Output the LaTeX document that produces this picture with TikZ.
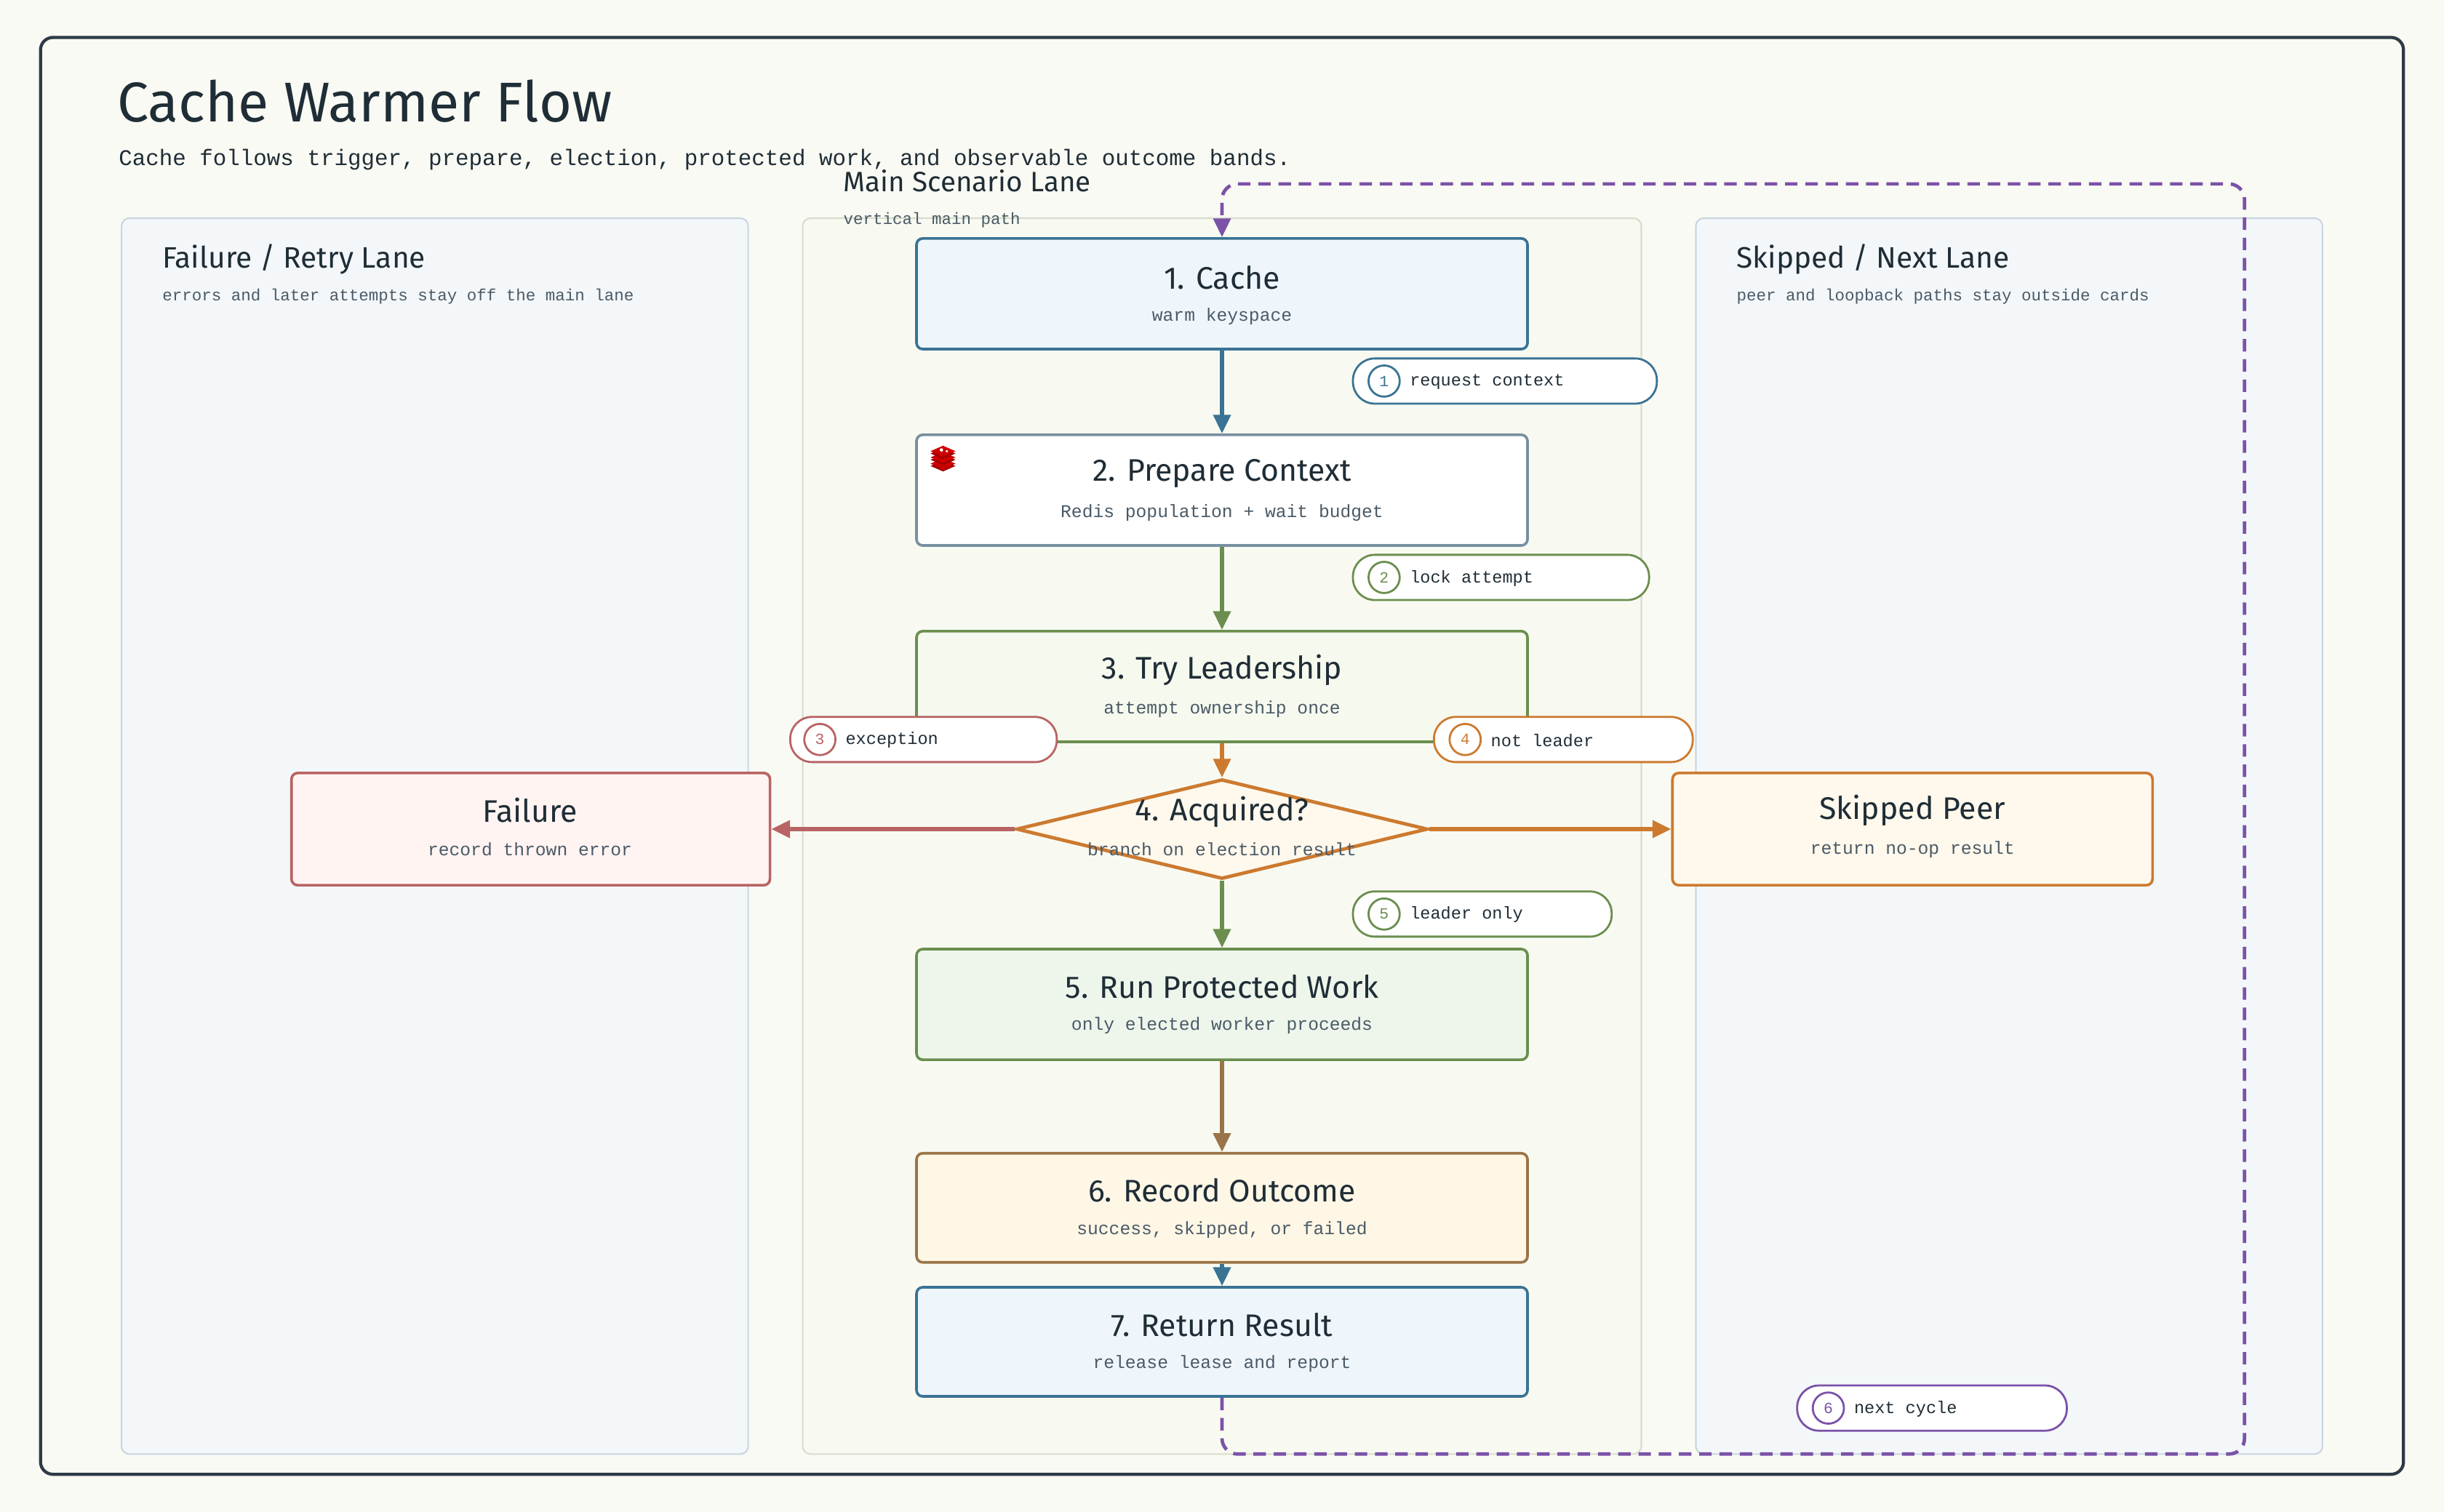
\documentclass[tikz,border=0pt]{standalone}
\usepackage{fontspec}
\setmainfont{Fira Sans}
\newfontfamily\mono{Liberation Mono}
\usetikzlibrary{arrows.meta,shapes.geometric}
\definecolor{ink}{HTML}{1F2D36}
\definecolor{sub}{HTML}{4A5A66}
\definecolor{cblue}{HTML}{3A7394}
\definecolor{cgreen}{HTML}{6B8E4E}
\definecolor{cred}{HTML}{B86464}
\definecolor{corange}{HTML}{CC7A30}
\definecolor{cbrown}{HTML}{9A7448}
\definecolor{cgray}{HTML}{7890A0}
\definecolor{cpurple}{HTML}{7B52A8}
\definecolor{bgc}{HTML}{FAFAF4}
\definecolor{frame}{HTML}{2D3B45}
\definecolor{laneb}{HTML}{F3F7FA}
\definecolor{lanebd}{HTML}{C9D6E0}
\definecolor{lanem}{HTML}{F8FAF2}
\definecolor{lanemd}{HTML}{D8DCCB}
\definecolor{fblue}{HTML}{EEF6FC}
\definecolor{fgreen}{HTML}{F6F9EE}
\definecolor{fgreen2}{HTML}{EEF6EC}
\definecolor{forange}{HTML}{FFF8EC}
\definecolor{fred}{HTML}{FFF4F2}
\definecolor{fbrown}{HTML}{FFF7E6}
\tikzset{
 box/.style={draw,line width=1.7pt,rounded corners=4pt},
 ttl/.style={font=\fontsize{20}{24}\selectfont,text=ink},
 st/.style={font=\mono\fontsize{11.5}{13}\selectfont,text=sub},
 lane/.style={line width=1pt,rounded corners=5pt},
 arr/.style={line width=2.4pt,-{Triangle[length=12pt,width=11pt]}},
 pill/.style={draw,line width=1.3pt,fill=white,rounded corners=14pt},
 pnum/.style={draw,circle,line width=1.3pt,minimum size=20pt,inner sep=0pt,font=\mono\fontsize{10}{12}\selectfont},
 ptxt/.style={font=\mono\fontsize{11}{13}\selectfont,text=ink,anchor=west},
}
\begin{document}
\begin{tikzpicture}[x=1pt,y=-1pt]
\fill[bgc] (0,0) rectangle (1568,970);
\useasboundingbox (0,0) rectangle (1568,970);
\draw[line width=2pt,draw=frame,rounded corners=8pt,fill=bgc] (26,24) rectangle (1542,946);
\node[anchor=base west,inner sep=0,font=\fontsize{36}{40}\selectfont,text=ink] (title) at (75,78) {Cache Warmer Flow};
\node[anchor=base west,inner sep=0,font=\mono\fontsize{14.4}{17}\selectfont,text=ink] (subt) at (76,106) {Cache follows trigger, prepare, election, protected work, and observable outcome bands.};
% lanes
\draw[lane,fill=laneb,draw=lanebd] (78,140) rectangle (480,933);
\draw[lane,fill=lanem,draw=lanemd] (515,140) rectangle (1053,933);
\draw[lane,fill=laneb,draw=lanebd] (1088,140) rectangle (1490,933);
\node[anchor=base west,inner sep=0,font=\fontsize{19}{22}\selectfont,text=ink] (l1) at (104,172) {Failure / Retry Lane};
\node[anchor=base west,inner sep=0,font=\mono\fontsize{10.5}{12}\selectfont,text=sub] (l1s) at (104,193) {errors and later attempts stay off the main lane};
\node[anchor=base west,inner sep=0,font=\fontsize{18}{22}\selectfont,text=ink] (l2) at (541,123) {Main Scenario Lane};
\node[anchor=base west,inner sep=0,font=\mono\fontsize{10.5}{12}\selectfont,text=sub] (l2s) at (541,144) {vertical main path};
\node[anchor=base west,inner sep=0,font=\fontsize{19}{22}\selectfont,text=ink] (l3) at (1114,172) {Skipped / Next Lane};
\node[anchor=base west,inner sep=0,font=\mono\fontsize{10.5}{12}\selectfont,text=sub] (l3s) at (1114,193) {peer and loopback paths stay outside cards};
% boxes
\node[box,draw=cblue,fill=fblue,minimum width=392pt,minimum height=71pt] (b1) at (784,188.5) {};
\node[box,draw=cgray,fill=white,minimum width=392pt,minimum height=71pt] (b2) at (784,314.5) {};
\node[box,draw=cgreen,fill=fgreen,minimum width=392pt,minimum height=71pt] (b3) at (784,440.5) {};
\node[draw=corange,line width=2.2pt,fill=forange,diamond,aspect=4.1,minimum width=264pt,minimum height=64pt,inner sep=0] (b4) at (784,532) {};
\node[box,draw=cred,fill=fred,minimum width=307pt,minimum height=72pt] (fail) at (340.5,532) {};
\node[box,draw=corange,fill=forange,minimum width=308pt,minimum height=72pt] (skip) at (1227,532) {};
\node[box,draw=cgreen,fill=fgreen2,minimum width=392pt,minimum height=71pt] (b5) at (784,644.5) {};
\node[box,draw=cbrown,fill=fbrown,minimum width=392pt,minimum height=70pt] (b6) at (784,775) {};
\node[box,draw=cblue,fill=fblue,minimum width=392pt,minimum height=70pt] (b7) at (784,861) {};
% texts
\node[ttl] (t1) at (784,178) {1. Cache};
\node[st] (s1) at (784,203) {warm keyspace};
\node[ttl] (t2) at (784,304) {2. Prepare Context};
\node[st] (s2) at (784,329) {Redis population + wait budget};
\node[ttl] (t3) at (784,430) {3. Try Leadership};
\node[st] (s3) at (784,455) {attempt ownership once};
\node[ttl] (t4) at (784,521) {4. Acquired?};
\node[st] (s4) at (784,545) {branch on election result};
\node[ttl] (tf) at (340,520) {Failure};
\node[st] (sf) at (340,545) {record thrown error};
\node[ttl] (tk) at (1227,520) {Skipped Peer};
\node[st] (sk) at (1227,545) {return no-op result};
\node[ttl] (t5) at (784,633) {5. Run Protected Work};
\node[st] (s5) at (784,658) {only elected worker proceeds};
\node[ttl] (t6) at (784,764) {6. Record Outcome};
\node[st] (s6) at (784,789) {success, skipped, or failed};
\node[ttl] (t7) at (784,850) {7. Return Result};
\node[st] (s7) at (784,875) {release lease and report};
% redis icon
\begin{scope}[shift={(605,295)}]
 \foreach \dy in {4,0,-4}{\fill[red!65!black] (-8,\dy) -- (0,\dy+3.5) -- (8,\dy) -- (0,\dy-3.5) -- cycle;
 \fill[red!80!black] (-8,\dy-1.5) -- (0,\dy+2) -- (8,\dy-1.5) -- (0,\dy-5) -- cycle;}
 \fill[white] (-1,-6.3) circle (1.1pt) (2.5,-5.5) circle (0.8pt);
\end{scope}
% arrows
\draw[arr,cblue] (b1.south) -- (b2.north);
\draw[arr,cgreen] (b2.south) -- (b3.north);
\draw[arr,corange] (b3.south) -- (b4.north);
\draw[arr,cred] (b4.west) -- (fail.east);
\draw[arr,corange] (b4.east) -- (skip.west);
\draw[arr,cgreen] (b4.south) -- (b5.north);
\draw[arr,cbrown] (b5.south) -- (b6.north);
\draw[arr,cblue] (b6.south) -- (b7.north);
\coordinate (lp1) at (784,933);
\coordinate (lp2) at (1440,933);
\coordinate (lp3) at (1440,118);
\coordinate (lp4) at (784,118);
\draw[line width=2.2pt,cpurple,dash pattern=on 8pt off 5pt,rounded corners=10pt,-{Triangle[length=12pt,width=11pt]}] (b7.south) -- (lp1) -- (lp2) -- (lp3) -- (lp4) -- (b1.north);
% pills
\draw[pill,draw=cblue] (868,230) rectangle (1063,259);
\node[pnum,draw=cblue,text=cblue] (p1) at (888,244.5) {1};
\node[ptxt] (q1) at (901,245) {request context};
\draw[pill,draw=cgreen] (868,356) rectangle (1058,385);
\node[pnum,draw=cgreen,text=cgreen] (p2) at (888,370.5) {2};
\node[ptxt] (q2) at (901,371) {lock attempt};
\draw[pill,draw=cred] (507,460) rectangle (678,489);
\node[pnum,draw=cred,text=cred] (p3) at (526,474.5) {3};
\node[ptxt] (q3) at (539,475) {exception};
\draw[pill,draw=corange] (920,460) rectangle (1086,489);
\node[pnum,draw=corange,text=corange] (p4) at (940,474.5) {4};
\node[ptxt] (q4) at (953,475) {not leader};
\draw[pill,draw=cgreen] (868,572) rectangle (1034,601);
\node[pnum,draw=cgreen,text=cgreen] (p5) at (888,586.5) {5};
\node[ptxt] (q5) at (901,587) {leader only};
\draw[pill,draw=cpurple] (1153,889) rectangle (1326,918);
\node[pnum,draw=cpurple,text=cpurple] (p6) at (1173,903.5) {6};
\node[ptxt] (q6) at (1186,904) {next cycle};
\end{tikzpicture}
\end{document}
